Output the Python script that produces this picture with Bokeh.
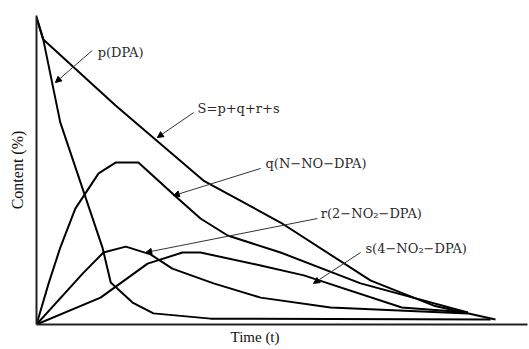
from bokeh.plotting import figure
from bokeh.models import Range1d, Arrow, NormalHead, Title, ColumnDataSource
from bokeh.core.properties import value
from bokeh.embed import file_html
from bokeh.resources import INLINE

# ---- data (time and content in % of axis length) ----
s_total_t = [0, 1.4, 16.3, 34.4, 50.3, 68.9, 81.9, 94.6]
s_total_c = [99.4, 92.2, 70.9, 46.6, 33.0, 14.2, 6.1, 1.6]

p_dpa_t = [0, 1.4, 4.9, 13.6, 15.3, 19.8, 24.1, 35.9, 93.6]
p_dpa_c = [99.4, 92.2, 65.4, 24.9, 13.6, 7.1, 3.6, 1.9, 1.6]

q_t = [0, 2.5, 4.9, 8.0, 12.8, 16.3, 21.0, 28.7, 33.8, 39.4, 50.3, 66.8, 88.9]
q_c = [0, 13.3, 24.9, 37.5, 48.9, 52.4, 52.4, 41.4, 34.3, 28.8, 23.3, 13.3, 3.9]

r_t = [0, 9.7, 13.8, 18.4, 23.5, 28.0, 36.5, 46.2, 60.6, 88.9]
r_c = [0, 16.8, 23.3, 25.2, 22.7, 18.1, 13.3, 8.7, 5.5, 3.6]

s_t = [0, 13.2, 22.9, 30.1, 33.8, 46.2, 55.1, 75.3, 88.9]
s_c = [0, 8.7, 19.7, 23.3, 23.3, 19.1, 15.9, 5.5, 3.9]

label_texts = ["p(DPA)", "S=p+q+r+s", "q(N\u2212NO\u2212DPA)",
               "r(2\u2212NO\u2082\u2212DPA)", "s(4\u2212NO\u2082\u2212DPA)"]

# annotation placement
label_x = [12.6, 33.2, 47.2, 58.6, 67.8]
label_y = [88.0, 69.9, 52.1, 35.9, 24.6]
arrow_x0 = [11.5, 32.4, 46.2, 57.9, 66.8]
arrow_y0 = [88.7, 68.6, 50.5, 34.3, 23.3]
arrow_x1 = [3.9, 24.9, 28.2, 22.5, 57.1]
arrow_y1 = [78.3, 60.5, 41.7, 23.3, 13.3]

p = figure(width=529, height=349, output_backend="svg", toolbar_location=None,
           x_range=Range1d(0, 101.2), y_range=Range1d(0, 100),
           min_border_left=36, min_border_right=2, min_border_top=15,
           min_border_bottom=25)
p.outline_line_color = None
p.grid.visible = False
p.background_fill_color = "white"
p.border_fill_color = "white"

for ax in (p.xaxis, p.yaxis):
    ax.ticker = []
    ax.major_tick_out = 0
    ax.major_tick_in = 0
    ax.minor_tick_out = 0
    ax.minor_tick_in = 0
    ax.major_label_standoff = 0
    ax.major_label_text_font_size = "0px"
    ax.axis_line_width = 2
    ax.axis_line_color = "#222222"

p.yaxis.axis_label = "Content (%)"
p.yaxis.axis_label_text_font = "Liberation Serif"
p.yaxis.axis_label_text_font_size = "16px"
p.yaxis.axis_label_text_font_style = "normal"
p.yaxis.axis_label_text_color = "#111111"
p.yaxis.axis_label_standoff = 11

for xs, ys in [(s_total_t, s_total_c), (p_dpa_t, p_dpa_c), (q_t, q_c),
               (r_t, r_c), (s_t, s_c)]:
    p.line(xs, ys, line_color="black", line_width=2, line_join="round")

for x0, y0, x1, y1 in zip(arrow_x0, arrow_y0, arrow_x1, arrow_y1):
    p.add_layout(Arrow(end=NormalHead(size=6, fill_color="black", line_color="black", line_width=1),
                       x_start=x0, y_start=y0, x_end=x1, y_end=y1,
                       line_color="#333333", line_width=1))

src = ColumnDataSource(dict(x=label_x, y=label_y, text=label_texts))
p.text(x="x", y="y", text="text", source=src, text_font=value("DejaVu Serif"),
       text_font_size="13px", text_baseline="middle", text_align="left",
       text_color="#2a2a2a")

p.add_layout(Title(text="Time (t)", align="left", offset=194, standoff=4,
                   text_font="Liberation Serif", text_font_size="15px",
                   text_font_style="normal", text_color="#111111"), "below")

open("out.html", "w").write(file_html(p, INLINE))
